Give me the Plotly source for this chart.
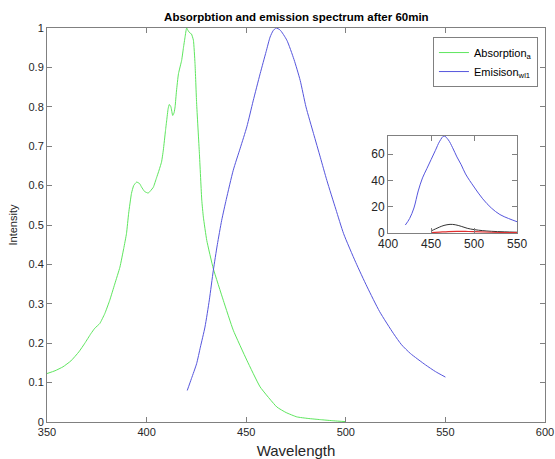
import plotly.graph_objects as go

# Main plot data
abs_x = [350, 354, 358, 362, 366, 369, 372, 374, 376.5, 379, 381.5, 384, 386.6, 388.5, 389.9, 391, 392.4, 393.5,
         395, 396.5, 397.5, 399, 400.8, 402, 403.4, 405, 406, 407.5, 408.4, 409.5, 410.1, 410.8, 411.4, 412.2,
         413.1, 413.8, 414.3, 415, 416, 417.6, 418.5, 419.3, 420.1, 421, 421.8, 422.5, 423.5, 424.3, 425.1,
         426.5, 427.7, 428.5, 430.2, 433.5, 438.5, 443.5, 450.3, 457, 465.4, 470, 475.4, 481, 487.2, 494, 500]
abs_y = [0.123, 0.13, 0.14, 0.155, 0.178, 0.2, 0.224, 0.238, 0.25, 0.275, 0.309, 0.35, 0.393, 0.44, 0.478, 0.53,
         0.58, 0.6, 0.609, 0.605, 0.596, 0.585, 0.581, 0.587, 0.596, 0.62, 0.635, 0.66, 0.69, 0.74, 0.766, 0.795,
         0.806, 0.8, 0.778, 0.785, 0.8, 0.84, 0.884, 0.918, 0.95, 0.977, 1.0, 0.992, 0.987, 0.985, 0.969, 0.91,
         0.81, 0.682, 0.563, 0.52, 0.461, 0.389, 0.309, 0.233, 0.157, 0.089, 0.038, 0.024, 0.013, 0.009, 0.006,
         0.003, 0.001]

em_x = [420.4, 422.5, 425.1, 427, 429.3, 431.5, 433.5, 435.5, 437.7, 440, 443.5, 447, 450.3, 453.5, 457, 460, 462,
        463.5, 465, 467, 470.4, 474, 477.1, 480, 483.8, 487.2, 490.5, 495, 498.9, 505, 510.7, 517, 524, 528,
        532.4, 540, 545, 550]
em_y = [0.080, 0.11, 0.148, 0.19, 0.241, 0.31, 0.385, 0.45, 0.512, 0.565, 0.639, 0.695, 0.749, 0.815, 0.884, 0.94,
        0.977, 0.993, 1.0, 0.995, 0.969, 0.92, 0.867, 0.8, 0.732, 0.672, 0.613, 0.54, 0.478, 0.405, 0.343, 0.28,
        0.224, 0.196, 0.174, 0.145, 0.128, 0.114]

# Inset data
in_blue_x = [420, 425, 430, 435, 440, 445, 450, 455, 460, 465, 470, 475, 480, 485, 490, 500, 510, 520, 530, 540, 550]
in_blue_y = [6, 11, 19, 32, 42, 49, 56, 63, 70, 74, 71, 65, 58, 52, 45, 35, 26, 19, 14, 11, 8.5]
in_black_x = [450, 455, 460, 465, 472, 478, 485, 492, 500, 510, 520, 535, 550]
in_black_y = [1.5, 3, 4.5, 5.7, 6.5, 6.2, 5, 3.5, 2.5, 1.7, 1.2, 0.8, 0.5]
in_red_x = [450, 460, 470, 480, 490, 500, 520, 550]
in_red_y = [0.2, 0.6, 1.0, 1.2, 1.1, 0.9, 0.5, 0.2]

main_ticks_x = [350, 400, 450, 500, 550, 600]
main_ticks_y = [0, 0.1, 0.2, 0.3, 0.4, 0.5, 0.6, 0.7, 0.8, 0.9, 1]
main_tick_labels_y = ["0", "0.1", "0.2", "0.3", "0.4", "0.5", "0.6", "0.7", "0.8", "0.9", "1"]
inset_ticks_x = [400, 450, 500, 550]
inset_ticks_y = [0, 20, 40, 60]

GREEN = "#5ee65e"
BLUE = "#5555dd"
AX = "#262626"
FONT = "Liberation Sans"

fig = go.Figure()
fig.add_trace(go.Scatter(x=abs_x, y=abs_y, mode="lines",
                         line=dict(color=GREEN, width=1, shape="spline", smoothing=0.4),
                         name="Absorption<sub>a</sub>"))
fig.add_trace(go.Scatter(x=em_x, y=em_y, mode="lines", line=dict(color=BLUE, width=1, shape="spline", smoothing=0.6),
                         name="Emisison<sub>wl1</sub>"))
fig.add_trace(go.Scatter(x=in_blue_x, y=in_blue_y, mode="lines", line=dict(color=BLUE, width=1),
                         xaxis="x2", yaxis="y2", showlegend=False, line_shape="spline"))
fig.add_trace(go.Scatter(x=in_black_x, y=in_black_y, mode="lines", line=dict(color="#333333", width=1),
                         xaxis="x2", yaxis="y2", showlegend=False, line_shape="spline"))
fig.add_trace(go.Scatter(x=in_red_x, y=in_red_y, mode="lines", line=dict(color="#e03030", width=1.2),
                         xaxis="x2", yaxis="y2", showlegend=False, line_shape="spline"))

axis_common = dict(showgrid=False, zeroline=False, showline=True, linecolor="#808080", linewidth=1,
                   mirror="ticks", ticks="inside", ticklen=5, tickcolor="#808080", automargin=False,
                   tickfont=dict(family=FONT, size=11, color=AX))
inset_axis = dict(axis_common)
inset_axis["tickfont"] = dict(family=FONT, size=12, color=AX)

fig.update_layout(
    width=555, height=459,
    margin=dict(l=47, r=10, t=28, b=37, autoexpand=False),
    paper_bgcolor="white", plot_bgcolor="white",
    title=dict(text="<b>Absorpbtion and emission spectrum after 60min</b>", x=0.534, xanchor="center",
               y=0.962, yanchor="middle", font=dict(family=FONT, size=11.5, color="black")),
    xaxis=dict(range=[350, 600], tickvals=main_ticks_x, domain=[0, 1],
               title=dict(text="Wavelength", font=dict(family=FONT, size=15, color=AX), standoff=8),
               **axis_common),
    yaxis=dict(range=[0, 1], tickvals=main_ticks_y, ticktext=main_tick_labels_y, domain=[0, 1],
               title=dict(text="Intensity", font=dict(family=FONT, size=11, color=AX), standoff=8),
               **axis_common),
    xaxis2=dict(range=[400, 550], tickvals=inset_ticks_x, domain=[0.685, 0.944], anchor="y2",
                **inset_axis),
    yaxis2=dict(range=[0, 74], tickvals=inset_ticks_y, domain=[0.480, 0.726], anchor="x2",
                **inset_axis),
    legend=dict(x=0.775, y=0.977, xanchor="left", yanchor="top", bgcolor="white",
                bordercolor="#808080", borderwidth=1, font=dict(family=FONT, size=11, color="black"),
                tracegroupgap=0),
    showlegend=True,
)

fig.write_html("out.html")
